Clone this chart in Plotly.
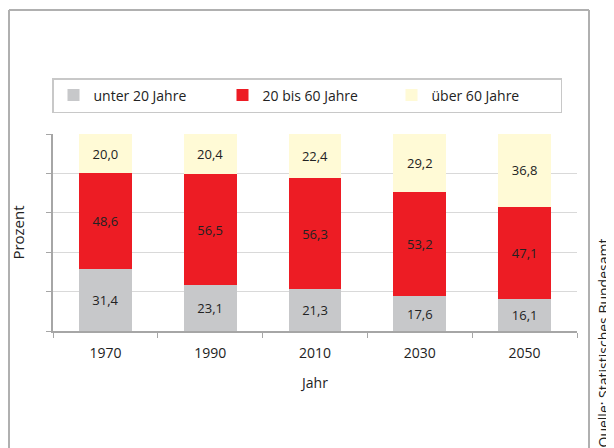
import plotly.graph_objects as go

years = ["1970", "1990", "2010", "2030", "2050"]
unter20 = [31.4, 23.1, 21.3, 17.6, 16.1]
bis60 = [48.6, 56.5, 56.3, 53.2, 47.1]
ueber60 = [20.0, 20.4, 22.4, 29.2, 36.8]
series_names = ["unter 20 Jahre", "20 bis 60 Jahre", "über 60 Jahre"]
colors = ["#c7c8ca", "#ed1c24", "#fffad6"]

FONT = "Open Sans"

def fmt(v):
    return f"{v:.1f}".replace(".", ",")

fig = go.Figure()
for name, vals, col in zip(series_names, [unter20, bis60, ueber60], colors):
    fig.add_trace(go.Bar(
        x=years, y=vals, name=name,
        marker=dict(color=col, line=dict(width=0)),
        text=[fmt(v) for v in vals],
        textposition="inside", insidetextanchor="middle",
        textfont=dict(family=FONT, size=13, color="#222222"),
        textangle=0,
        hoverinfo="skip",
    ))

# page body has an 8px default margin; work in screen pixels and shift
OFF = 8
W, H = 614 - OFF, 448 - OFF
L, T = 53 - OFF, 134 - OFF
R = (614 - OFF) - (577 - OFF)
B = (448 - OFF) - (331 - OFF)
pw, ph = W - L - R, H - T - B

def px(xs):
    return (xs - OFF - L) / pw

def py(ys):
    return (H - B - (ys - OFF)) / ph

frame = dict(color="#b0b0b0", width=2)
fx0, fx1, fy0, fy1 = px(9), px(589), py(470), py(10)

fig.update_layout(
    width=W, height=H,
    margin=dict(l=L, r=R, t=T, b=B, autoexpand=False),
    barmode="stack", bargap=0.495,
    plot_bgcolor="white", paper_bgcolor="white",
    font=dict(family=FONT, size=14, color="#222222"),
    uniformtext=dict(minsize=13, mode="show"),
    showlegend=True,
    legend=dict(
        orientation="h", traceorder="normal",
        x=px(52), y=py(78), xanchor="left", yanchor="top",
        bordercolor="#c8c8c8", borderwidth=1.5,
        font=dict(family=FONT, size=14, color="#222222"),
        entrywidth=124, entrywidthmode="pixels",
        itemwidth=30,
    ),
    xaxis=dict(
        type="category", range=[-0.5, 4.5],
        showline=True, linecolor="#a6a6a6", linewidth=1.5,
        ticks="outside", tickson="boundaries", ticklen=5, tickcolor="#a6a6a6",
        tickfont=dict(family=FONT, size=14, color="#222222"),
        ticklabelstandoff=8,
        showgrid=False,
        title=dict(text="Jahr", font=dict(family=FONT, size=14, color="#222222"), standoff=18),
    ),
    yaxis=dict(
        range=[0, 100], tickvals=[0, 20, 40, 60, 80, 100],
        showticklabels=False,
        showline=True, linecolor="#a6a6a6", linewidth=1.5,
        ticks="outside", ticklen=5, tickcolor="#a6a6a6",
        showgrid=True, gridcolor="#d9d9d9", gridwidth=1.2,
        zeroline=False,
        title=dict(text="Prozent", font=dict(family=FONT, size=15, color="#222222"), standoff=18),
    ),
    shapes=[
        dict(type="line", xref="paper", yref="paper", x0=fx0, x1=fx1, y0=fy1, y1=fy1, line=frame, layer="above"),
        dict(type="line", xref="paper", yref="paper", x0=fx0, x1=fx0, y0=fy0, y1=fy1, line=frame, layer="above"),
        dict(type="line", xref="paper", yref="paper", x0=fx1, x1=fx1, y0=fy0, y1=fy1, line=frame, layer="above"),
    ],
    annotations=[dict(
        text="Quelle: Statistisches Bundesamt",
        xref="paper", yref="paper", x=px(603), y=py(450),
        xanchor="center", yanchor="bottom", textangle=-90,
        showarrow=False, font=dict(family=FONT, size=14, color="#222222"),
    )],
)

fig.write_html("out.html")
